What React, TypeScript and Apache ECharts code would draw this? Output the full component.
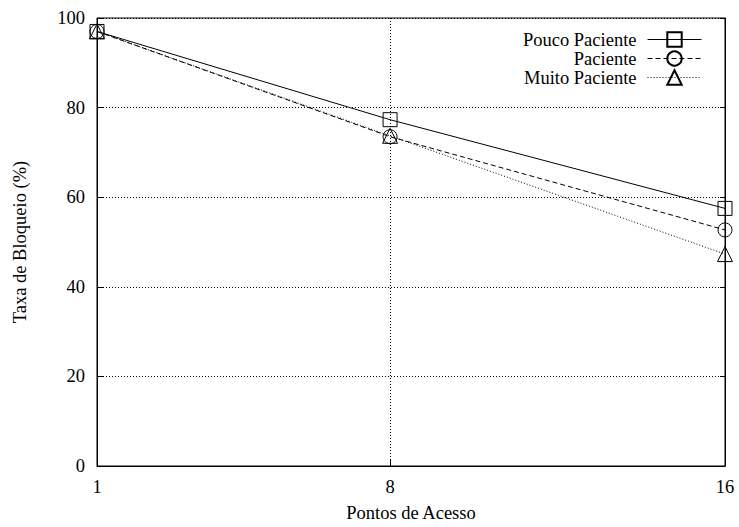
import React, { useEffect, useRef } from "react";
import * as echarts from "echarts";

const xValues = [1, 8, 16];
const xTickLabels = [1, 8, 16];
const seriesNames = ["Pouco Paciente", "Paciente", "Muito Paciente"];
const poucoPaciente = [97, 77.3, 57.5];
const paciente = [97, 73.5, 52.7];
const muitoPaciente = [97, 73.7, 47.3];

const FONT = "'Liberation Serif', 'Times New Roman', serif";
const FS = 18.5;

export default function App() {
  const ref = useRef<HTMLDivElement>(null);
  useEffect(() => {
    if (!ref.current) return;
    const chart = echarts.init(ref.current, undefined, { renderer: "svg" });
    const toPairs = (vals: number[]) => vals.map((v, i) => [xValues[i], v]);
    const symbols = ["rect", "circle", "triangle"];
    const lineTypes: any[] = ["solid", [5, 3], [1, 2]];
    const datasets = [poucoPaciente, paciente, muitoPaciente];
    const series: any[] = datasets.map((d, i) => ({
      name: seriesNames[i],
      type: "line",
      data: toPairs(d),
      symbol: symbols[i],
      symbolSize: i === 2 ? 15 : 14,
      showSymbol: true,
      lineStyle: { color: "#000", width: 1, type: lineTypes[i] },
      itemStyle: { color: "rgba(255,255,255,0)", borderColor: "#000", borderWidth: 1 },
      z: 3 + i,
    }));
    series.push({
      type: "line",
      data: [],
      silent: true,
      markLine: {
        silent: true,
        symbol: "none",
        label: { show: false },
        lineStyle: { color: "#000", width: 1, type: [1, 2] },
        data: [{ xAxis: xValues[1] }],
      },
    });
    chart.setOption({
      animation: false,
      backgroundColor: "#fff",
      textStyle: { fontFamily: FONT },
      grid: { left: 97, right: 14, top: 18, bottom: 61, show: true, borderColor: "#000", borderWidth: 1 },
      legend: {
        orient: "vertical",
        align: "right",
        right: 32,
        top: 25,
        itemWidth: 54,
        itemHeight: 18,
        itemGap: 0,
        lineStyle: { width: 1 },
        textStyle: { fontFamily: FONT, fontSize: FS, color: "#000", lineHeight: 18.5, padding: [0, 6, 0, 0] },
        data: seriesNames,
      },
      xAxis: {
        type: "value",
        min: 1,
        max: 16,
        name: "Pontos de Acesso",
        nameLocation: "middle",
        nameGap: 37,
        nameTextStyle: { fontFamily: FONT, fontSize: FS, color: "#000" },
        axisLine: { show: true, lineStyle: { color: "#000", width: 1 } },
        axisTick: { show: true, inside: true, length: 6, customValues: xTickLabels, lineStyle: { color: "#000" } },
        axisLabel: { customValues: xTickLabels, fontFamily: FONT, fontSize: FS, color: "#000", margin: 11 },
        splitLine: { show: false },
      },
      yAxis: [
        {
          type: "value",
          min: 0,
          max: 100,
          interval: 20,
          name: "Taxa de Bloqueio (%)",
          nameLocation: "middle",
          nameGap: 68,
          nameTextStyle: { fontFamily: FONT, fontSize: FS, color: "#000" },
          axisLine: { show: true, lineStyle: { color: "#000", width: 1 } },
          axisTick: { show: true, inside: true, length: 6, lineStyle: { color: "#000" } },
          axisLabel: { fontFamily: FONT, fontSize: FS, color: "#000", margin: 12 },
          splitLine: { show: true, lineStyle: { color: "#000", width: 1, type: [1, 2] } },
        },
        {
          type: "value",
          min: 0,
          max: 100,
          interval: 20,
          position: "right",
          axisLine: { show: true, lineStyle: { color: "#000", width: 1 } },
          axisTick: { show: true, inside: true, length: 5, lineStyle: { color: "#000" } },
          axisLabel: { show: false },
          splitLine: { show: false },
        },
      ],
      series,
    });
    return () => chart.dispose();
  }, []);
  return (
    <div
      ref={ref}
      style={{ position: "absolute", left: 0, top: 0, width: 739, height: 527 }}
    />
  );
}
